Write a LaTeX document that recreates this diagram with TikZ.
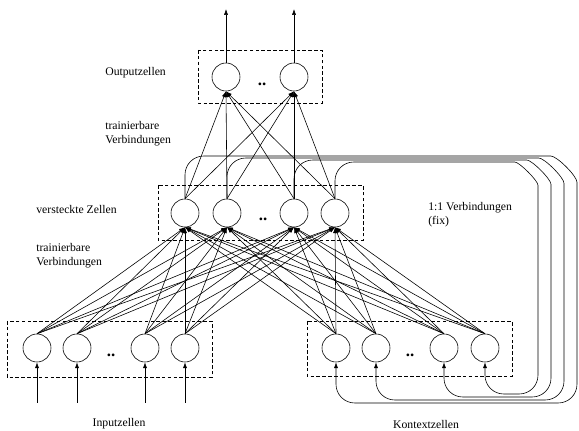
\documentclass[tikz,border=0pt]{standalone}
\usepackage{fontspec}
\setmainfont{Liberation Serif}
\usetikzlibrary{arrows.meta}
\tikzset{
  zelle/.style={draw, circle, minimum size=0.84cm, inner sep=0pt},
  schicht/.style={draw, dash pattern=on 3pt off 2pt},
  beschr/.style={font=\fontsize{10}{12}\selectfont, align=left, anchor=west, inner sep=0pt},
  punkte/.style={font=\bfseries\Large, inner sep=0pt}
}
\begin{document}
\begin{tikzpicture}[x=0.03cm, y=-0.03cm, line width=0.5pt,
    >={Latex[length=5pt,width=3.5pt]}]
      \useasboundingbox (0,0) rectangle (579,431);
      % Schichten
      \draw[schicht] (198,50) rectangle (322,103);
      \draw[schicht] (158,185) rectangle (363,240);
      \draw[schicht] (7,321) rectangle (212,377);
      \draw[schicht] (307,321) rectangle (512,376);
      \draw
        (226,77) node[zelle] (o1){}
        (294,77) node[zelle] (o2){}
        (185,213) node[zelle] (h1){}
        (227,213) node[zelle] (h2){}
        (294,213) node[zelle] (h3){}
        (335,213) node[zelle] (h4){}
        (37,348) node[zelle] (i1){}
        (77,348) node[zelle] (i2){}
        (145,348) node[zelle] (i3){}
        (185,348) node[zelle] (i4){}
        (336,348) node[zelle] (k1){}
        (376,348) node[zelle] (k2){}
        (444,348) node[zelle] (k3){}
        (485,348) node[zelle] (k4){};
      \draw
        (262,84) node[punkte] (po){..}
        (263,219) node[punkte] (ph){..}
        (111,355) node[punkte] (pi){..}
        (410,355) node[punkte] (pk){..};
      % Beschriftungen
      \draw
        (105,73) node[beschr] (lo){Outputzellen}
        (105,134) node[beschr] (lv1){trainierbare\\Verbindungen}
        (36,209) node[beschr] (lh){versteckte Zellen}
        (36,256) node[beschr] (lv2){trainierbare\\Verbindungen}
        (428,215) node[beschr] (lf){1:1 Verbindungen\\(fix)}
        (119,424) node[beschr, anchor=center] (li){Inputzellen}
        (426,424) node[beschr, anchor=center] (lk){Kontextzellen};
      \coordinate (a1) at (226,9);
      \coordinate (a2) at (294,9);
      \coordinate (e1) at (37,403);
      \coordinate (e2) at (77,403);
      \coordinate (e3) at (145,403);
      \coordinate (e4) at (185,403);
      \begin{scope}[->]
        \draw (o1) to (a1);
        \draw (o2) to (a2);
        \draw (e1) to (i1);
        \draw (e2) to (i2);
        \draw (e3) to (i3);
        \draw (e4) to (i4);
        \draw (h1.north) to (o1.south);
        \draw (h1.north) to (o2.south);
        \draw (h2.north) to (o1.south);
        \draw (h2.north) to (o2.south);
        \draw (h3.north) to (o1.south);
        \draw (h3.north) to (o2.south);
        \draw (h4.north) to (o1.south);
        \draw (h4.north) to (o2.south);
        \draw (i1.north) to (h1.south);
        \draw (i1.north) to (h2.south);
        \draw (i1.north) to (h3.south);
        \draw (i1.north) to (h4.south);
        \draw (i2.north) to (h1.south);
        \draw (i2.north) to (h2.south);
        \draw (i2.north) to (h3.south);
        \draw (i2.north) to (h4.south);
        \draw (i3.north) to (h1.south);
        \draw (i3.north) to (h2.south);
        \draw (i3.north) to (h3.south);
        \draw (i3.north) to (h4.south);
        \draw (i4.north) to (h1.south);
        \draw (i4.north) to (h2.south);
        \draw (i4.north) to (h3.south);
        \draw (i4.north) to (h4.south);
        \draw (k1.north) to (h1.south);
        \draw (k1.north) to (h2.south);
        \draw (k1.north) to (h3.south);
        \draw (k1.north) to (h4.south);
        \draw (k2.north) to (h1.south);
        \draw (k2.north) to (h2.south);
        \draw (k2.north) to (h3.south);
        \draw (k2.north) to (h4.south);
        \draw (k3.north) to (h1.south);
        \draw (k3.north) to (h2.south);
        \draw (k3.north) to (h3.south);
        \draw (k3.north) to (h4.south);
        \draw (k4.north) to (h1.south);
        \draw (k4.north) to (h2.south);
        \draw (k4.north) to (h3.south);
        \draw (k4.north) to (h4.south);
      \end{scope}
      % 1:1 Verbindungen
      \begin{scope}[->, rounded corners=16pt]
        \draw (h1.north) |- (532,156) to[out=0,in=90] (577,201) -- (577,403) -| (k1.south);
        \draw (h2.north) |- (520,158) to[out=0,in=90] (564,202) -- (564,400) -| (k2.south);
        \draw (h3.north) |- (508,160) to[out=0,in=90] (551,203) -- (551,397) -| (k3.south);
        \draw (h4.north) |- (496,162) to[out=0,in=90] (538,204) -- (538,394) -| (k4.south);
      \end{scope}
    \end{tikzpicture}
\end{document}
